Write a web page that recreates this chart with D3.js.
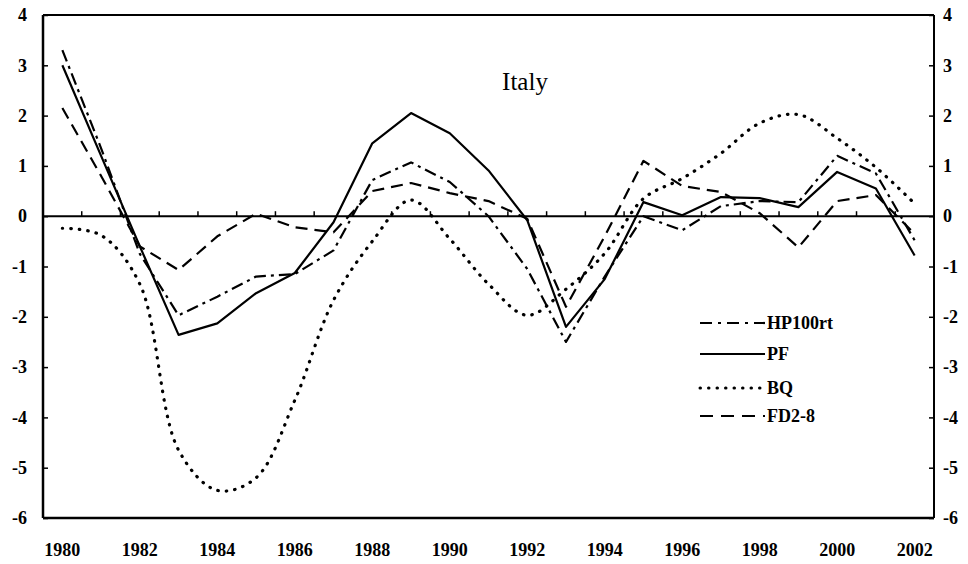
<!DOCTYPE html>
<html><head><meta charset="utf-8">
<script src="https://cdn.jsdelivr.net/npm/d3@7"></script>
<style>body{margin:0;background:#fff}svg{display:block}</style>
</head><body>
<script>
const years = d3.range(1980, 2003);
const xTickLabels = [1980,1982,1984,1986,1988,1990,1992,1994,1996,1998,2000,2002];
const yTicks = [4,3,2,1,0,-1,-2,-3,-4,-5,-6];
const hp100rt = [3.3, 1.35, -0.75, -1.97, -1.6, -1.2, -1.15, -0.68, 0.72, 1.07, 0.68, 0.0, -1.05, -2.5, -1.2, 0.0, -0.28, 0.2, 0.3, 0.28, 1.2, 0.85, -0.48];
const pf = [3.0, 1.2, -0.6, -2.36, -2.13, -1.53, -1.13, -0.12, 1.45, 2.05, 1.65, 0.91, -0.08, -2.2, -1.25, 0.28, 0.02, 0.38, 0.36, 0.18, 0.88, 0.55, -0.78];
const bq = [-0.24, -0.38, -1.35, -4.65, -5.45, -5.2, -3.66, -1.67, -0.5, 0.32, -0.45, -1.35, -1.97, -1.45, -0.74, 0.35, 0.75, 1.25, 1.85, 2.02, 1.55, 0.97, 0.25];
const fd28 = [2.15, 0.8, -0.6, -1.07, -0.4, 0.05, -0.22, -0.32, 0.5, 0.66, 0.46, 0.3, -0.05, -1.8, -0.4, 1.1, 0.6, 0.48, 0.06, -0.62, 0.3, 0.42, -0.35];
const seriesNames = ["HP100rt","PF","BQ","FD2-8"];
const title = "Italy";

const W = 968, H = 564;
const L = 43, R = 934, T = 15, B = 518;
const svg = d3.select("body").append("svg").attr("width", W).attr("height", H);

const x = d3.scaleBand().domain(years).range([L, R]);
const y = d3.scaleLinear().domain([-6, 4]).range([B, T]);
const cx = d => x(d) + x.bandwidth()/2;

const font = "Liberation Serif, Times New Roman, serif";
const fs = 18;

const styles = {
  "HP100rt": {dash: "12,5,3,5", curve: d3.curveLinear},
  "PF": {dash: null, curve: d3.curveLinear},
  "BQ": {dash: "0.5,8", curve: d3.curveCatmullRom},
  "FD2-8": {dash: "12,7", curve: d3.curveLinear}
};
const data = {"HP100rt": hp100rt, "PF": pf, "BQ": bq, "FD2-8": fd28};

// frame
svg.append("line").attr("x1", L).attr("x2", R).attr("y1", T).attr("y2", T).attr("stroke","#000").attr("stroke-width",2);
svg.append("line").attr("x1", R).attr("x2", R).attr("y1", T).attr("y2", B).attr("stroke","#000").attr("stroke-width",2);
svg.append("line").attr("x1", L).attr("x2", R).attr("y1", B).attr("y2", B).attr("stroke","#000").attr("stroke-width",2.5);
svg.append("line").attr("x1", L).attr("x2", L).attr("y1", T).attr("y2", B).attr("stroke","#000").attr("stroke-width",2.5);

// left axis
const yl = svg.append("g").attr("transform", `translate(${L},0)`)
  .call(d3.axisRight(y).tickValues(yTicks).tickSize(5).tickFormat(d => String(d)));
yl.select(".domain").remove();
yl.selectAll("line").attr("stroke-width", 1.5);
yl.selectAll("text").attr("x", -16).attr("text-anchor","end");
// right axis
const yr = svg.append("g").attr("transform", `translate(${R},0)`)
  .call(d3.axisLeft(y).tickValues(yTicks).tickSize(5).tickFormat(d => String(d)));
yr.select(".domain").remove();
yr.selectAll("line").attr("stroke-width", 1.5);
yr.selectAll("text").attr("x", 9).attr("text-anchor","start");
[yl, yr].forEach(g => g.attr("font-family", font).attr("font-size", fs).attr("font-weight","bold"));
svg.selectAll("g text").style("font-family", font).style("font-weight","bold").style("font-size",fs+"px").attr("fill","#000");

// zero line with year boundary ticks
svg.append("line").attr("x1", L).attr("x2", R).attr("y1", y(0)).attr("y2", y(0)).attr("stroke","#000").attr("stroke-width",2);
svg.append("g").selectAll("line").data(years.slice(1)).join("line")
  .attr("x1", d => x(d)).attr("x2", d => x(d))
  .attr("y1", y(0)).attr("y2", y(0) - 5).attr("stroke","#000").attr("stroke-width",1.5);

// x labels
svg.append("g").selectAll("text").data(xTickLabels).join("text")
  .attr("x", d => cx(d)).attr("y", 556).attr("text-anchor","middle")
  .style("font-family", font).style("font-weight","bold").style("font-size",fs+"px").text(d => d);

// lines
seriesNames.forEach(name => {
  const st = styles[name];
  const line = d3.line().x((d,i) => cx(years[i])).y(d => y(d)).curve(st.curve);
  const p = svg.append("path").datum(data[name]).attr("d", line)
    .attr("fill","none").attr("stroke","#000").attr("stroke-width",2.2)
    .attr("stroke-linejoin","round");
  if (st.dash) p.attr("stroke-dasharray", st.dash);
  if (name === "BQ") p.attr("stroke-linecap","round").attr("stroke-width",3.2);
});

// title
svg.append("text").attr("x", 525).attr("y", 90).attr("text-anchor","middle")
  .style("font-family", font).style("font-size", "25px").text(title);

// legend
const legY = [323, 354, 388, 416];
seriesNames.forEach((name, i) => {
  const st = styles[name];
  const l = svg.append("line").attr("x1", 700).attr("x2", 765).attr("y1", legY[i]).attr("y2", legY[i])
    .attr("stroke","#000").attr("stroke-width", name==="BQ"?3:2.2);
  if (st.dash) l.attr("stroke-dasharray", name==="HP100rt" ? "12,6,3,6" : name==="FD2-8" ? "13,8" : "0.5,8");
  if (name==="BQ") l.attr("stroke-linecap","round");
  svg.append("text").attr("x", 767).attr("y", legY[i] + 6)
    .style("font-family", font).style("font-weight","bold").style("font-size",fs+"px").text(name);
});
</script>
</body></html>
